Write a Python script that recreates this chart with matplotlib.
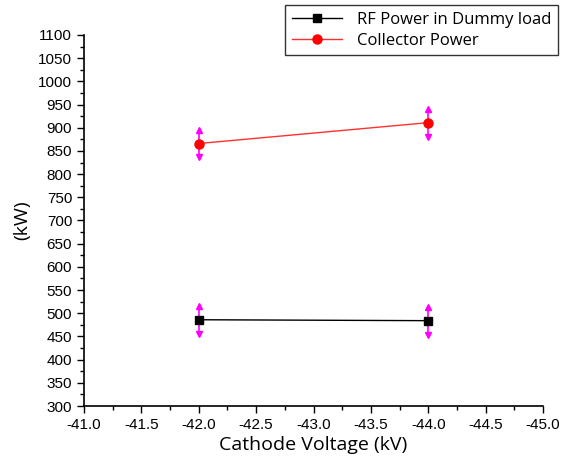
import matplotlib
matplotlib.use("Agg")
import matplotlib.pyplot as plt
from matplotlib.ticker import MultipleLocator, FormatStrFormatter

voltage = [-42.0, -44.0]
rf_power = [486, 484]
rf_err = [30, 30]
collector_power = [866, 911]
collector_err = [30, 30]

fig = plt.figure(figsize=(5.63, 4.65), dpi=100)
ax = fig.add_axes([84/563, 1-406/465, (543-84)/563, (406-35)/465])

err_color = "#ff00ff"
for ys, es in [(rf_power, rf_err), (collector_power, collector_err)]:
    for x, y, e in zip(voltage, ys, es):
        ax.plot([x, x], [y - e, y + e], color=err_color, lw=1.2, zorder=2)
        ax.plot([x], [y + e], marker="^", color=err_color, ms=5, zorder=2, ls="none")
        ax.plot([x], [y - e], marker="v", color=err_color, ms=5, zorder=2, ls="none")

ax.plot(voltage, rf_power, color="black", lw=1.0, marker="s", ms=6,
        label="RF Power in Dummy load", zorder=3)
ax.plot(voltage, collector_power, color="#ff3030", lw=1.0, marker="o", ms=6.5,
        markerfacecolor="red", markeredgecolor="red",
        label="Collector Power", zorder=3)

ax.set_xlim(-41.0, -45.0)
ax.set_ylim(300, 1100)
ax.xaxis.set_major_locator(MultipleLocator(0.5))
ax.xaxis.set_minor_locator(MultipleLocator(0.25))
ax.xaxis.set_major_formatter(FormatStrFormatter("%.1f"))
ax.yaxis.set_major_locator(MultipleLocator(50))
ax.yaxis.set_minor_locator(MultipleLocator(25))

for s in ["top", "right"]:
    ax.spines[s].set_visible(False)
for s in ["left", "bottom"]:
    ax.spines[s].set_linewidth(1.2)

ax.tick_params(which="major", direction="out", length=5, width=1.0,
               labelsize=11)
ax.tick_params(which="minor", direction="out", length=3, width=1.0)
for lab in ax.get_xticklabels() + ax.get_yticklabels():
    lab.set_fontfamily("Liberation Sans")

ax.set_xlabel("Cathode Voltage (kV)", fontsize=14, family="Open Sans", labelpad=3)
ax.set_ylabel("(kW)", fontsize=14, family="Open Sans", labelpad=5)

leg = fig.legend(loc="upper right", bbox_to_anchor=(558/563, 1-5/465),
                 borderaxespad=0.0,
                 prop={"family": "Open Sans", "size": 12}, frameon=True,
                 fancybox=False, edgecolor="black", borderpad=0.4,
                 handlelength=3.0, handletextpad=0.9, labelspacing=0.3)
leg.get_frame().set_linewidth(1.0)

fig.savefig("out.png", dpi=100)
